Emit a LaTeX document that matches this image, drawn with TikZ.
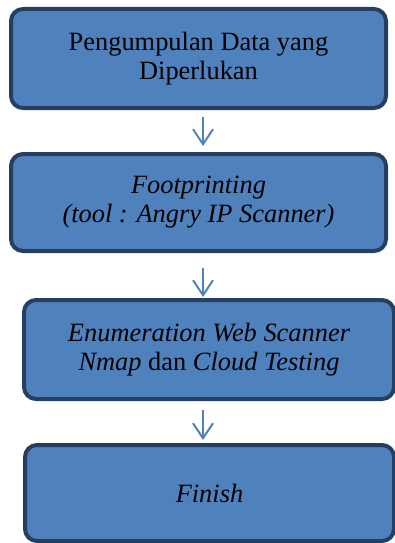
\documentclass[tikz,border=0pt]{standalone}
\usepackage{fontspec}
\setmainfont{Liberation Serif}
\usetikzlibrary{arrows.meta}
\definecolor{boxfill}{HTML}{4F81BD}
\definecolor{boxedge}{HTML}{263F60}
\definecolor{arrowblue}{HTML}{4F81BD}
\tikzset{
  stage/.style={draw=boxedge, fill=boxfill, line width=4pt, rounded corners=12pt,
    inner sep=0pt, align=center, text=black,
    font=\fontsize{26.4}{29}\selectfont},
  flow/.style={draw=arrowblue, line width=2pt,
    -{Straight Barb[length=15pt, width=20pt, line width=2pt]}}
}
\begin{document}
\begin{tikzpicture}[x=1pt, y=-1pt]
  \useasboundingbox (0,0) rectangle (395,543);

  % process stages
  \node[stage, minimum width=375pt, minimum height=99pt] (b1) at (198.5,58.5)
    {Pengumpulan Data yang\\Diperlukan};
  \node[stage, minimum width=375pt, minimum height=97pt] (b2) at (198.5,202.5)
    {\itshape Footprinting\\\itshape (tool : Angry IP Scanner)};
  \node[stage, minimum width=370pt, minimum height=99pt] (b3) at (209,349.5)
    {\itshape Enumeration Web Scanner\\\textit{Nmap} dan \textit{Cloud Testing}};
  \node[stage, minimum width=369pt, minimum height=96pt] (b4) at (209.5,493)
    {\itshape Finish};

  % arrow ends between the stages
  \coordinate (t1) at (203,117);
  \coordinate (h1) at (203,146);
  \coordinate (t2) at (203,268);
  \coordinate (h2) at (203,297);
  \coordinate (t3) at (203,410);
  \coordinate (h3) at (203,440);

  \draw[flow] (t1) -- (h1);
  \draw[flow] (t2) -- (h2);
  \draw[flow] (t3) -- (h3);
\end{tikzpicture}
\end{document}
